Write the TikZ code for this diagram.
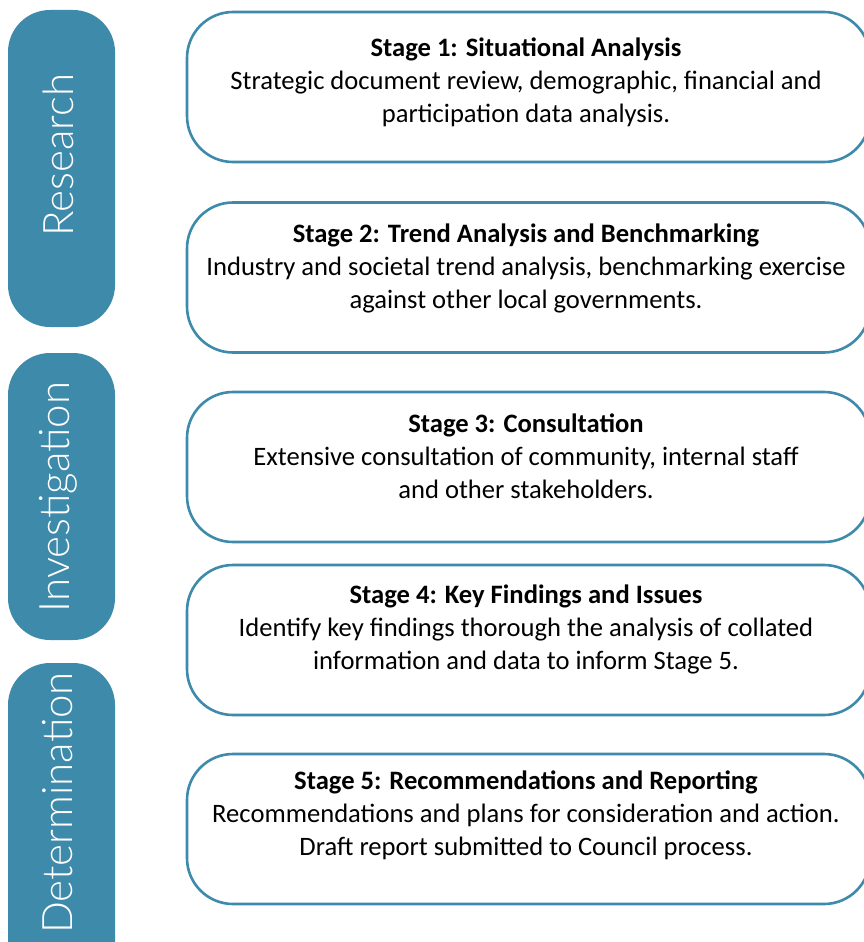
\documentclass[tikz,border=0pt]{standalone}
\usepackage{fontspec}
\setmainfont{Carlito}
\newfontfamily\barfont{Lato}[UprightFont=* Light]
\usepackage{tikz}
\usetikzlibrary{positioning}
\definecolor{teal}{HTML}{3E8AAA}

\begin{document}
\begin{tikzpicture}[
		x=1pt, y=-1pt
		,phase/.style={rectangle, rounded corners=42pt, fill=teal, minimum width=107pt}
		,phaselabel/.style={text=white, rotate=90, font=\barfont\fontsize{42}{42}\selectfont}
		,stagebox/.style={rectangle, rounded corners=46pt, draw=teal, line width=2.6pt, fill=white, minimum width=683pt, minimum height=150pt}
		,stagetext/.style={align=center, font=\fontsize{26.6}{33}\selectfont}
	]
		\useasboundingbox (0,0) rectangle (863,942);
		% phase bars
		\node [phase, minimum height=317pt] (research) at (61.5,168.5) {};
		\node [phase, minimum height=287pt] (investigation) at (61.5,496.5) {};
		\node [phase, minimum height=330pt] (determination) at (61.5,828) {};
		\node [phaselabel] (researchlbl) at (58,155) {Research};
		\node [phaselabel] (investigationlbl) at (58,497) {Investigation};
		\node [phaselabel] (determinationlbl) at (58,803) {Determination};
		% stage boxes
		\node [stagebox] (s1) at (528.5,87) {};
		\node [stagebox] (s2) at (528.5,277.5) {};
		\node [stagebox] (s3) at (528.5,467) {};
		\node [stagebox] (s4) at (528.5,640) {};
		\node [stagebox] (s5) at (528.5,829) {};
		\node [stagetext] (t1) at (526,82) {\textbf{Stage 1: Situational Analysis}\\Strategic document review, demographic, financial and\\participation data analysis.};
		\node [stagetext] (t2) at (526,268) {\textbf{Stage 2: Trend Analysis and Benchmarking}\\Industry and societal trend analysis, benchmarking exercise\\against other local governments.};
		\node [stagetext] (t3) at (526,456) {\textbf{Stage 3: Consultation}\\Extensive consultation of community, internal staff\\and other stakeholders.};
		\node [stagetext] (t4) at (526,629) {\textbf{Stage 4: Key Findings and Issues}\\Identify key findings thorough the analysis of collated\\information and data to inform Stage 5.};
		\node [stagetext] (t5) at (526,815) {\textbf{Stage 5: Recommendations and Reporting}\\Recommendations and plans for consideration and action.\\Draft report submitted to Council process.};
	\end{tikzpicture}
\end{document}
